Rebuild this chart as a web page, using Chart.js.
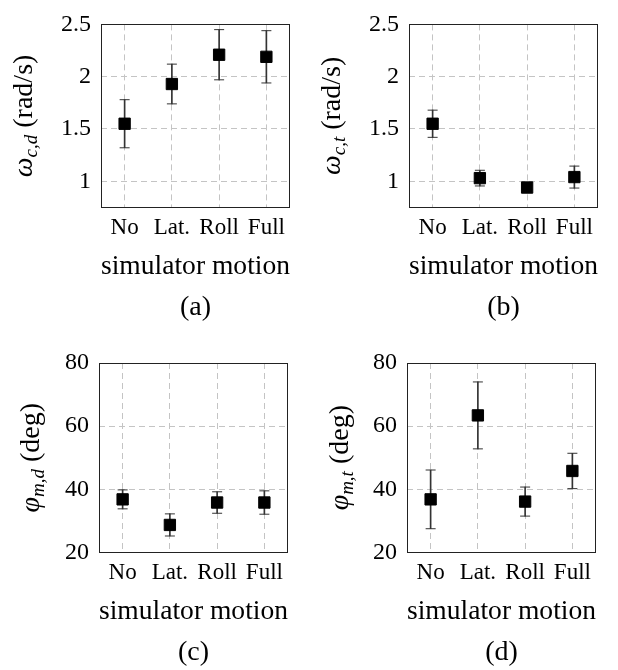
<!DOCTYPE html>
<html>
<head>
<meta charset="utf-8">
<script src="https://cdn.jsdelivr.net/npm/chart.js@4.4.1/dist/chart.umd.min.js"></script>
<style>
  body { margin: 0; background: #fff; }
  #wrap { position: relative; width: 618px; height: 670px; }
  canvas { position: absolute; }
</style>
</head>
<body>
<div id="wrap">
  <canvas id="pa" width="309" height="330" style="left:0;top:0"></canvas>
  <canvas id="pb" width="309" height="330" style="left:309px;top:0"></canvas>
  <canvas id="pc" width="309" height="340" style="left:0;top:330px"></canvas>
  <canvas id="pd" width="309" height="340" style="left:309px;top:330px"></canvas>
</div>
<script>
// --- data ---
const categories = ["No", "Lat.", "Roll", "Full"];

const omegaCD    = [1.55, 1.93, 2.21, 2.19];
const omegaCDErr = [0.23, 0.19, 0.24, 0.25];

const omegaCT    = [1.55, 1.03, 0.94, 1.04];
const omegaCTErr = [0.13, 0.075, 0.02, 0.105];

const phiMD    = [36.8, 28.7, 35.8, 35.8];
const phiMDErr = [3.0, 3.5, 3.4, 3.7];

const phiMT    = [36.8, 63.4, 36.1, 45.8];
const phiMTErr = [9.3, 10.6, 4.6, 5.6];

const omegaTicks = [1, 1.5, 2, 2.5];
const phiTicks   = [20, 40, 60, 80];

const SERIF = "'Liberation Serif', 'Times New Roman', serif";
const GRID = "#c4c4c4";
const ERRC = "#333333";

// box round the plot area (pgfplots style frame)
const framePlugin = {
  id: "frame",
  beforeDatasetsDraw(chart) {
    const ctx = chart.ctx;
    const a = chart.chartArea;
    ctx.save();
    ctx.strokeStyle = "#222";
    ctx.lineWidth = 1;
    ctx.strokeRect(Math.round(a.left) + 0.5, Math.round(a.top) + 0.5,
                   Math.round(a.right - a.left) - 1, Math.round(a.bottom - a.top));
    ctx.restore();
  }
};

// rotated y label with italic symbol + subscript
function yTitlePlugin(parts, x) {
  return {
    id: "ytitle",
    afterDraw(chart) {
      const ctx = chart.ctx;
      const a = chart.chartArea;
      ctx.save();
      ctx.fillStyle = "#000";
      ctx.textBaseline = "alphabetic";
      ctx.textAlign = "left";
      const widths = parts.map(p => { ctx.font = p.font; return ctx.measureText(p.text).width; });
      const total = widths.reduce((s, w) => s + w, 0);
      ctx.translate(x, (a.top + a.bottom) / 2);
      ctx.rotate(-Math.PI / 2);
      let cx = -total / 2;
      parts.forEach((p, i) => {
        ctx.font = p.font;
        ctx.fillText(p.text, cx, p.dy || 0);
        cx += widths[i];
      });
      ctx.restore();
    }
  };
}

function makePanel(id, means, errs, ticks, yMin, yMax, symbol, sub, unit, caption, box) {
  const hi = means.map((m, i) => m + errs[i]);
  const lo = means.map((m, i) => m - errs[i]);

  const parts = [
    { text: symbol, font: `italic 28px ${SERIF}` },
    { text: sub, font: `italic 19px ${SERIF}`, dy: 5 },
    { text: " " + unit, font: `28px ${SERIF}` }
  ];

  return new Chart(document.getElementById(id), {
    type: "bar",
    data: {
      labels: categories,
      datasets: [
        {
          type: "line", data: means, showLine: false, order: 1,
          pointStyle: "rect", pointRadius: 8,
          pointBackgroundColor: "#000", pointBorderColor: "#000", pointBorderWidth: 1
        },
        {
          type: "line", data: hi, showLine: false, order: 2,
          pointStyle: "line", pointRadius: 5,
          pointBorderColor: ERRC, pointBorderWidth: 1
        },
        {
          type: "line", data: lo, showLine: false, order: 2,
          pointStyle: "line", pointRadius: 5,
          pointBorderColor: ERRC, pointBorderWidth: 1
        },
        {
          type: "bar", data: means.map((m, i) => [lo[i], hi[i]]), order: 3,
          barThickness: 1, backgroundColor: ERRC
        }
      ]
    },
    options: {
      responsive: false,
      animation: false,
      events: [],
      layout: { padding: { left: 0, right: box.right, top: box.top, bottom: box.bottom } },
      plugins: {
        legend: { display: false },
        tooltip: { enabled: false },
        title: {
          display: true, position: "bottom", fullSize: false, text: caption, color: "#000",
          font: { family: SERIF, size: 28, weight: "normal", lineHeight: 1.2 },
          padding: { top: 7, bottom: 0 }
        }
      },
      scales: {
        x: {
          type: "category",
          offset: true,
          grid: { offset: false, color: GRID, drawTicks: false },
          border: { display: false, dash: [6, 4] },
          ticks: { font: { family: SERIF, size: 23 }, color: "#000", padding: 7, maxRotation: 0, autoSkip: false },
          title: {
            display: true, text: "simulator motion", color: "#000", padding: 0,
            font: { family: SERIF, size: 28, lineHeight: 1.2 }
          },
          afterFit(s) { s.height = 76; }
        },
        y: {
          type: "linear",
          min: yMin,
          max: yMax,
          afterBuildTicks(s) { s.ticks = ticks.map(v => ({ value: v })); },
          grid: { color: GRID, drawTicks: false },
          border: { display: false, dash: [6, 4] },
          ticks: { font: { family: SERIF, size: 24 }, color: "#000", padding: 10, callback: v => String(v) },
          afterFit(s) { s.width = box.left; }
        }
      }
    },
    plugins: [framePlugin, yTitlePlugin(parts, box.titleX)]
  });
}

makePanel("pa", omegaCD, omegaCDErr, omegaTicks, 0.75, 2.5, "ω", "c,d", "(rad/s)", "(a)",
  { left: 101, right: 19, top: 18, bottom: 6, titleX: 32 });
makePanel("pb", omegaCT, omegaCTErr, omegaTicks, 0.75, 2.5, "ω", "c,t", "(rad/s)", "(b)",
  { left: 100, right: 20, top: 18, bottom: 6, titleX: 31 });
makePanel("pc", phiMD, phiMDErr, phiTicks, 20, 80, "φ", "m,d", "(deg)", "(c)",
  { left: 99, right: 21, top: 33, bottom: 1, titleX: 39 });
makePanel("pd", phiMT, phiMTErr, phiTicks, 20, 80, "φ", "m,t", "(deg)", "(d)",
  { left: 98, right: 22, top: 33, bottom: 1, titleX: 39 });
</script>
</body>
</html>
